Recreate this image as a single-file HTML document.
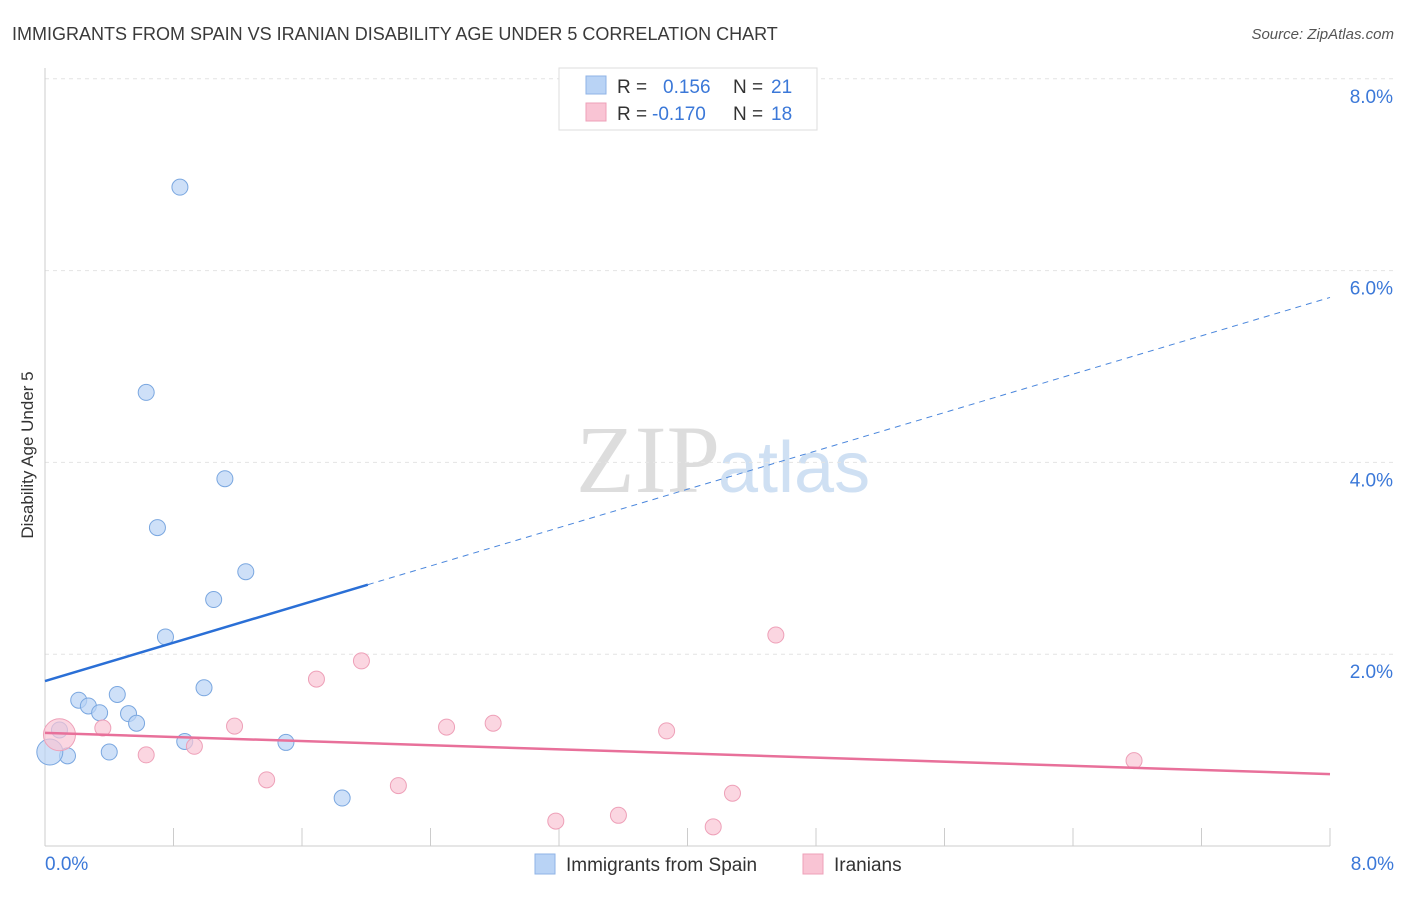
<!DOCTYPE html>
<html><head><meta charset="utf-8"><style>
body{margin:0;background:#fff;font-family:"Liberation Sans",sans-serif}
</style></head><body>
<svg width="1406" height="892" xmlns="http://www.w3.org/2000/svg" id="chart">
<text x="12" y="40" font-size="18" fill="#3a3a3a">IMMIGRANTS FROM SPAIN VS IRANIAN DISABILITY AGE UNDER 5 CORRELATION CHART</text>
<text x="1394" y="39" font-size="15" fill="#555" font-style="italic" text-anchor="end">Source: ZipAtlas.com</text>
<text x="720" y="492" font-size="96" fill="#ddd" font-family="Liberation Serif" text-anchor="end">ZIP</text>
<text x="718" y="492" font-size="72" fill="#cfe0f3">atlas</text>
<text transform="translate(33,455) rotate(-90)" font-size="17" fill="#333" text-anchor="middle">Disability Age Under 5</text>
<g id="grid"></g><g id="marks"></g>
<g>
<rect x="559" y="68" width="258" height="62" fill="#fff" stroke="#ddd"/>
<rect x="586" y="76" width="20" height="18" fill="#b9d3f5" stroke="#8fb3e6"/>
<rect x="586" y="103" width="20" height="18" fill="#f9c4d4" stroke="#eea0b8"/>
<text x="617" y="93" font-size="19" fill="#333">R = </text><text x="663" y="93" font-size="19" fill="#3b78d8">0.156</text>
<text x="733" y="93" font-size="19" fill="#333">N = </text><text x="771" y="93" font-size="19" fill="#3b78d8">21</text>
<text x="617" y="120" font-size="19" fill="#333">R = </text><text x="652" y="120" font-size="19" fill="#3b78d8">-0.170</text>
<text x="733" y="120" font-size="19" fill="#333">N = </text><text x="771" y="120" font-size="19" fill="#3b78d8">18</text>
</g>
<g>
<rect x="535" y="854" width="20" height="20" fill="#b9d3f5" stroke="#8fb3e6"/>
<text x="566" y="871" font-size="19" fill="#333">Immigrants from Spain</text>
<rect x="803" y="854" width="20" height="20" fill="#f9c4d4" stroke="#eea0b8"/>
<text x="834" y="871" font-size="19" fill="#333">Iranians</text>
</g>
</svg>
<script>
const yTicks=[2,4,6,8];
const xTickLabels=["0.0%","8.0%"];
const spainX=[0.84,0.63,1.12,0.70,1.25,1.05,0.75,0.21,0.45,0.99,0.27,0.34,0.52,0.57,0.09,0.87,1.50,0.40,0.14,0.03,1.85];
const spainY=[6.87,4.73,3.83,3.32,2.86,2.57,2.18,1.52,1.58,1.65,1.46,1.39,1.38,1.28,1.21,1.09,1.08,0.98,0.94,0.98,0.50];
const iranX=[0.09,0.36,0.63,0.93,1.18,1.38,1.69,1.97,2.20,2.50,2.79,3.18,3.57,3.87,4.16,4.28,4.55,6.78];
const iranY=[1.16,1.23,0.95,1.04,1.25,0.69,1.74,1.93,0.63,1.24,1.28,0.26,0.32,1.20,0.20,0.55,2.20,0.89];
const spainTrend=[1.72,5.72];
const iranTrend=[1.18,0.75];
const X=v=>45+v*160.625, Y=v=>846-v*95.9;
const NS="http://www.w3.org/2000/svg";
function mk(p,t,a){const e=document.createElementNS(NS,t);for(const k in a)e.setAttribute(k,a[k]);p.appendChild(e);return e;}
const g=document.getElementById('grid'), m=document.getElementById('marks');
yTicks.forEach(t=>{
 const l=mk(g,'line',{x1:45,x2:1394,y1:Y(t),y2:Y(t),stroke:'#e4e4e4','stroke-dasharray':'4,4'});
 
 
 const tx=mk(g,'text',{x:1393,y:Y(t)+24,'font-size':19,fill:'#3b78d8','text-anchor':'end'});
 tx.textContent=t.toFixed(1)+'%';
 
 
});
const ax=mk(g,'line',{x1:45,x2:45,y1:68,y2:846,stroke:'#ccc'});


const bx=mk(g,'line',{x1:45,x2:1330,y1:846,y2:846,stroke:'#ccc'});


for(let i=0;i<=10;i++){const t=mk(g,'line',{x1:X(i*0.8),x2:X(i*0.8),y1:828,y2:846,stroke:'#ccc'});
 
 }
[[0,'start',45],[8,'end',1394]].forEach((d,i)=>{const t=mk(g,'text',{x:d[2],y:870,'font-size':19,fill:'#3b78d8','text-anchor':d[1]});t.textContent=xTickLabels[i];
 
 });
spainX.forEach((x,i)=>{const c=mk(m,'circle',{cx:X(x),cy:Y(spainY[i]),r:i==19?13:8,fill:'#b9d3f5','fill-opacity':0.7,stroke:'#7aa7e0'});
 
 });
iranX.forEach((x,i)=>{const c=mk(m,'circle',{cx:X(x),cy:Y(iranY[i]),r:i==0?16:8,fill:'#f9c4d4','fill-opacity':0.7,stroke:'#eea0b8'});
 
 });
const sy=x=>spainTrend[0]+(spainTrend[1]-spainTrend[0])*x/8;
const l1=mk(m,'line',{x1:X(0),y1:Y(sy(0)),x2:X(2.01),y2:Y(sy(2.01)),stroke:'#2a6fd6','stroke-width':2.5});


const l2=mk(m,'line',{x1:X(2.01),y1:Y(sy(2.01)),x2:X(8),y2:Y(sy(8)),stroke:'#4a86dc','stroke-width':1,'stroke-dasharray':'6,5'});


const l3=mk(m,'line',{x1:X(0),y1:Y(iranTrend[0]),x2:X(8),y2:Y(iranTrend[1]),stroke:'#e8709a','stroke-width':2.5});


</script>
</body></html>
